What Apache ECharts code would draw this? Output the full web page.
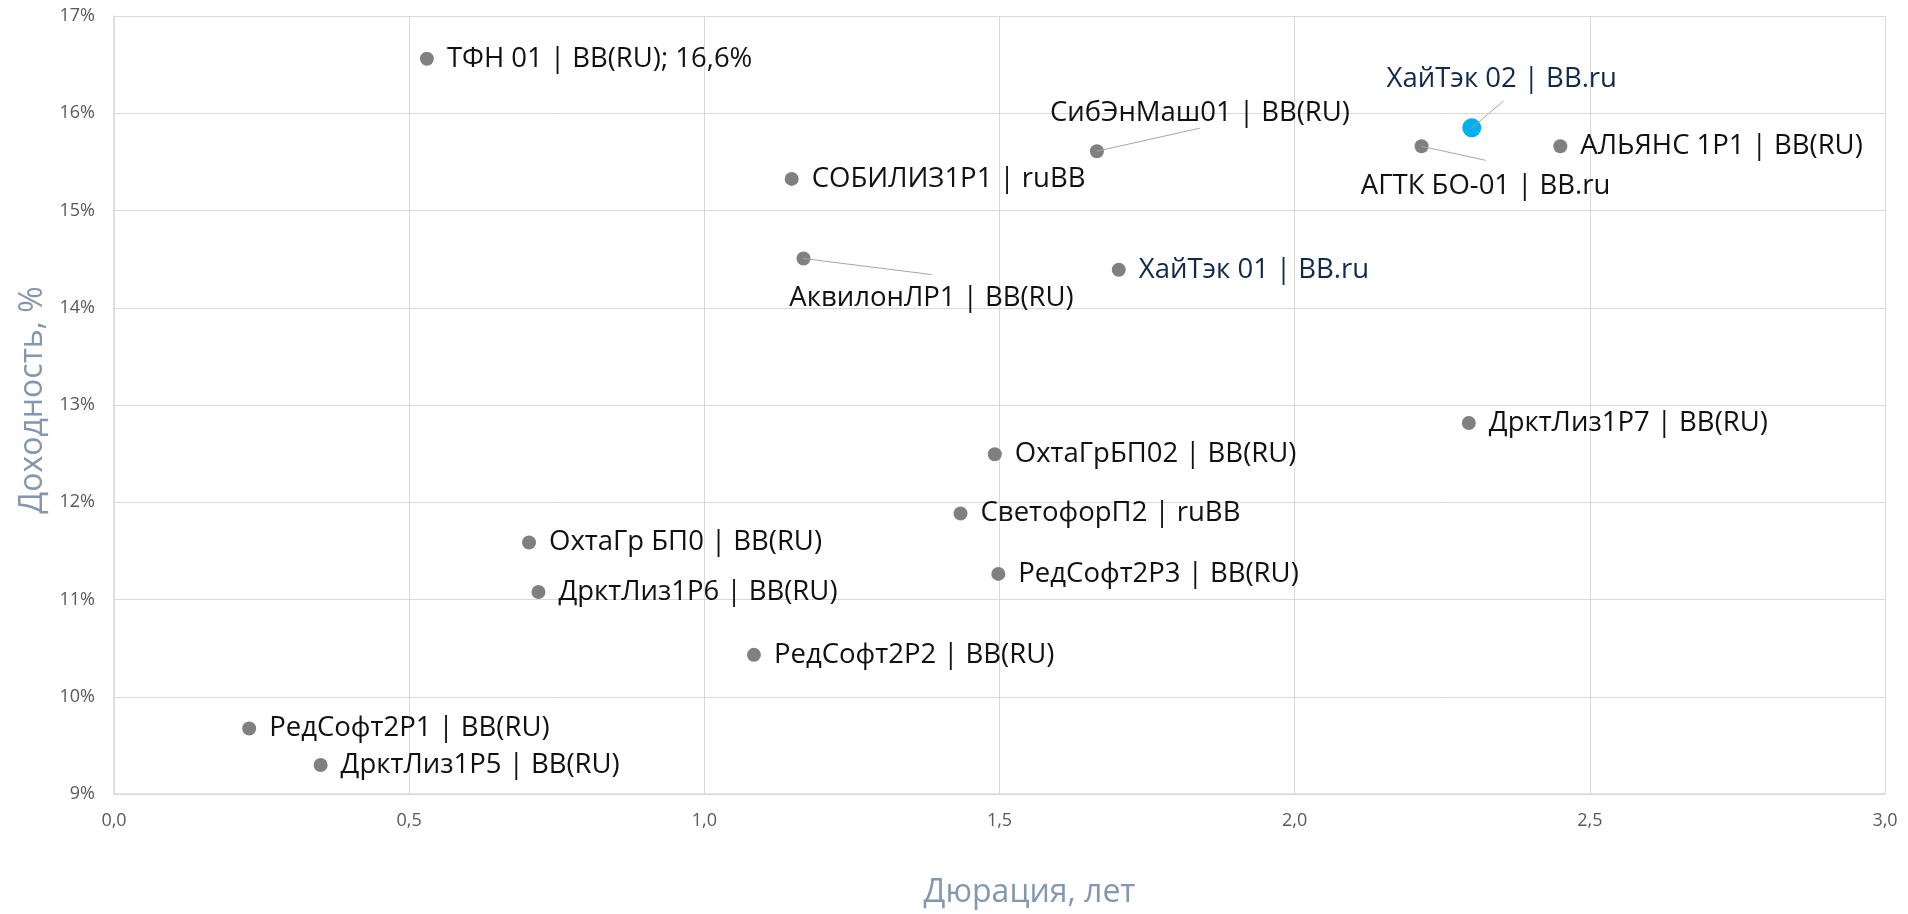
<!DOCTYPE html>
<html>
<head>
<meta charset="utf-8">
<script src="https://cdn.jsdelivr.net/npm/echarts@6/dist/echarts.min.js"></script>
<style>
html,body{margin:0;padding:0;background:#fff;}
#chart{width:1908px;height:914px;}
</style>
</head>
<body>
<div id="chart"></div>
<script>
// ---- data ----
const bondNames = [
  'ТФН 01 | BB(RU); 16,6%',
  'СибЭнМаш01 | BB(RU)',
  'ХайТэк 02 | BB.ru',
  'АГТК БО-01 | BB.ru',
  'АЛЬЯНС 1P1 | BB(RU)',
  'СОБИЛИЗ1P1 | ruBB',
  'АквилонЛР1 | BB(RU)',
  'ХайТэк 01 | BB.ru',
  'ДрктЛиз1P7 | BB(RU)',
  'ОхтаГрБП02 | BB(RU)',
  'СветофорП2 | ruBB',
  'ОхтаГр БП0 | BB(RU)',
  'РедСофт2P3 | BB(RU)',
  'ДрктЛиз1P6 | BB(RU)',
  'РедСофт2P2 | BB(RU)',
  'РедСофт2P1 | BB(RU)',
  'ДрктЛиз1P5 | BB(RU)'
];
const durations = [0.53, 1.665, 2.30, 2.215, 2.45, 1.148, 1.168, 1.702, 2.295, 1.492, 1.434, 0.703, 1.498, 0.719, 1.084, 0.229, 0.350];
const yields    = [16.56, 15.61, 15.85, 15.66, 15.66, 15.325, 14.506, 14.39, 12.815, 12.493, 11.884, 11.586, 11.263, 11.077, 10.431, 9.673, 9.298];
const xTicks = { min: 0, max: 3, step: 0.5 };
const yTicks = { min: 9, max: 17, step: 1 };
const highlightName = 'ХайТэк 02 | BB.ru';
const issuerHighlight = ['ХайТэк 01 | BB.ru', 'ХайТэк 02 | BB.ru'];

// ---- styling (not data): label offsets and leader-line end offsets, in px ----
const movedLabels = {
  'СибЭнМаш01 | BB(RU)': { label: [103, -38], line: [103, -23] },
  'ХайТэк 02 | BB.ru':   { label: [30, -49],  line: [32, -27] },
  'АГТК БО-01 | BB.ru':  { label: [64, 40],   line: [64, 14] },
  'АквилонЛР1 | BB(RU)': { label: [128, 40],  line: [128, 16] }
};
const FONT = '"Open Sans", "Noto Sans", sans-serif';

const seriesData = bondNames.map((n, i) => {
  const item = { name: n, value: [durations[i], yields[i]] };
  const moved = movedLabels[n];
  item.label = {
    color: issuerHighlight.includes(n) ? '#0f2a4c' : '#111111',
    position: moved ? 'inside' : 'right'
  };
  if (n === highlightName) {
    item.symbolSize = 19;
    item.itemStyle = { color: '#00b0f0' };
  }
  return item;
});

const chart = echarts.init(document.getElementById('chart'), null, { renderer: 'canvas' });
chart.setOption({
  animation: false,
  backgroundColor: '#ffffff',
  grid: { left: 114, right: 23, top: 16, bottom: 115, containLabel: false },
  xAxis: {
    type: 'value',
    min: xTicks.min, max: xTicks.max, interval: xTicks.step,
    name: 'Дюрация, лет',
    nameLocation: 'middle',
    nameGap: 83,
    nameTextStyle: { color: '#8497b0', fontSize: 32, fontFamily: FONT, padding: [0, 0, 0, 60] },
    axisLine: { show: true, lineStyle: { color: '#d9d9d9', width: 1.5 } },
    axisTick: { show: false },
    axisLabel: {
      color: '#595959', fontSize: 18, fontFamily: FONT, margin: 18,
      formatter: v => v.toFixed(1).replace('.', ',')
    },
    splitLine: { show: true, lineStyle: { color: '#d9d9d9', width: 1 } }
  },
  yAxis: {
    type: 'value',
    min: yTicks.min, max: yTicks.max, interval: yTicks.step,
    name: 'Доходность, %',
    nameLocation: 'middle',
    nameGap: 62,
    nameTextStyle: { color: '#8497b0', fontSize: 32, fontFamily: FONT, padding: [0, 0, 0, 10] },
    axisLine: { show: true, lineStyle: { color: '#d9d9d9', width: 1.5 } },
    axisTick: { show: false },
    axisLabel: {
      color: '#595959', fontSize: 18, fontFamily: FONT, margin: 19,
      formatter: v => v + '%'
    },
    splitLine: { show: true, lineStyle: { color: '#d9d9d9', width: 1 } }
  },
  series: [{
    type: 'scatter',
    symbol: 'circle',
    symbolSize: 14,
    itemStyle: { color: '#808080', opacity: 1 },
    label: {
      show: true,
      formatter: p => p.name,
      fontSize: 27.5,
      fontFamily: FONT,
      distance: 13
    },
    labelLayout: params => {
      const m = movedLabels[bondNames[params.dataIndex]];
      if (m) return { dx: m.label[0], dy: m.label[1] };
      return {};
    },
    emphasis: { disabled: true },
    data: seriesData
  }]
});

// leader lines from each moved point (through the chart's own scales) to its label
const leaderLines = [];
bondNames.forEach((n, i) => {
  const m = movedLabels[n];
  if (!m) return;
  const p = chart.convertToPixel({ seriesIndex: 0 }, [durations[i], yields[i]]);
  leaderLines.push({
    type: 'line',
    z: 100,
    silent: true,
    shape: { x1: p[0], y1: p[1], x2: p[0] + m.line[0], y2: p[1] + m.line[1] },
    style: { stroke: '#a6a6a6', lineWidth: 1 }
  });
});
chart.setOption({ graphic: leaderLines });
</script>
</body>
</html>
